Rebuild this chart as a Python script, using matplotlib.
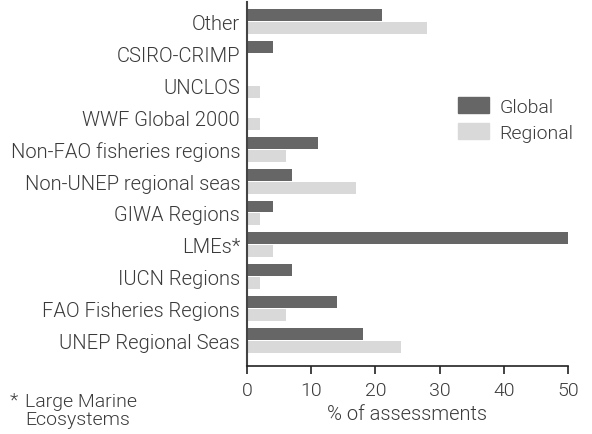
import matplotlib
matplotlib.use("Agg")
import matplotlib.pyplot as plt
import matplotlib.patches as mpatches
import numpy as np

categories = ["Other", "CSIRO-CRIMP", "UNCLOS", "WWF Global 2000",
              "Non-FAO fisheries regions", "Non-UNEP regional seas",
              "GIWA Regions", "LMEs*", "IUCN Regions",
              "FAO Fisheries Regions", "UNEP Regional Seas"]
global_pct = [21, 4, 0, 0, 11, 7, 4, 50, 7, 14, 18]
regional_pct = [28, 0, 2, 2, 6, 17, 2, 4, 2, 6, 24]
x_ticks = [0, 10, 20, 30, 40, 50]

c_global = '#666666'
c_regional = '#d9d9d9'
c_text = '#3a3a3a'

plt.rcParams['font.family'] = ['Roboto', 'DejaVu Sans']
plt.rcParams['font.weight'] = 300

fig = plt.figure(figsize=(5.92, 4.35), dpi=100, facecolor='white')
ax = fig.add_axes([0.4172, 0.156, 0.5422, 0.837])

y = np.arange(len(categories))
h = 0.375
off = 0.203
ax.barh(y - off, global_pct, height=h, color=c_global, label='Global')
ax.barh(y + off, regional_pct, height=h, color=c_regional, label='Regional')

ax.set_ylim(10.8, -0.61)
ax.set_xlim(0, 50)
ax.set_yticks(y)
ax.set_yticklabels(categories, fontsize=14.5, color=c_text)
ax.tick_params(axis='y', length=0, pad=5)
ax.set_xticks(x_ticks)
ax.tick_params(axis='x', length=6, width=1.2, color='#222222',
               labelsize=14, labelcolor=c_text, pad=5)
ax.set_xlabel('% of assessments', fontsize=14.5, fontweight=300,
              color=c_text, labelpad=3)

for s in ['top', 'right']:
    ax.spines[s].set_visible(False)
ax.spines['left'].set_color('#444444')
ax.spines['left'].set_linewidth(1.5)
ax.spines['bottom'].set_color('#222222')
ax.spines['bottom'].set_linewidth(1.2)

handles = [mpatches.Patch(color=c_global, label='Global'),
           mpatches.Patch(color=c_regional, label='Regional')]
leg = ax.legend(handles=handles, loc='upper left', bbox_to_anchor=(0.633, 0.76),
                frameon=False, fontsize=14, handlelength=1.6, handleheight=0.85,
                handletextpad=0.55, labelspacing=0.4, borderaxespad=0)
for t in leg.get_texts():
    t.set_color(c_text)

fig.text(10 / 592, 1 - 401 / 435, "*", fontsize=14, color=c_text,
         ha='left', va='center')
fig.text(25 / 592, 1 - 411 / 435, "Large Marine\nEcosystems", fontsize=14,
         color=c_text, ha='left', va='center', linespacing=0.95)

plt.savefig('out.png', dpi=100)
